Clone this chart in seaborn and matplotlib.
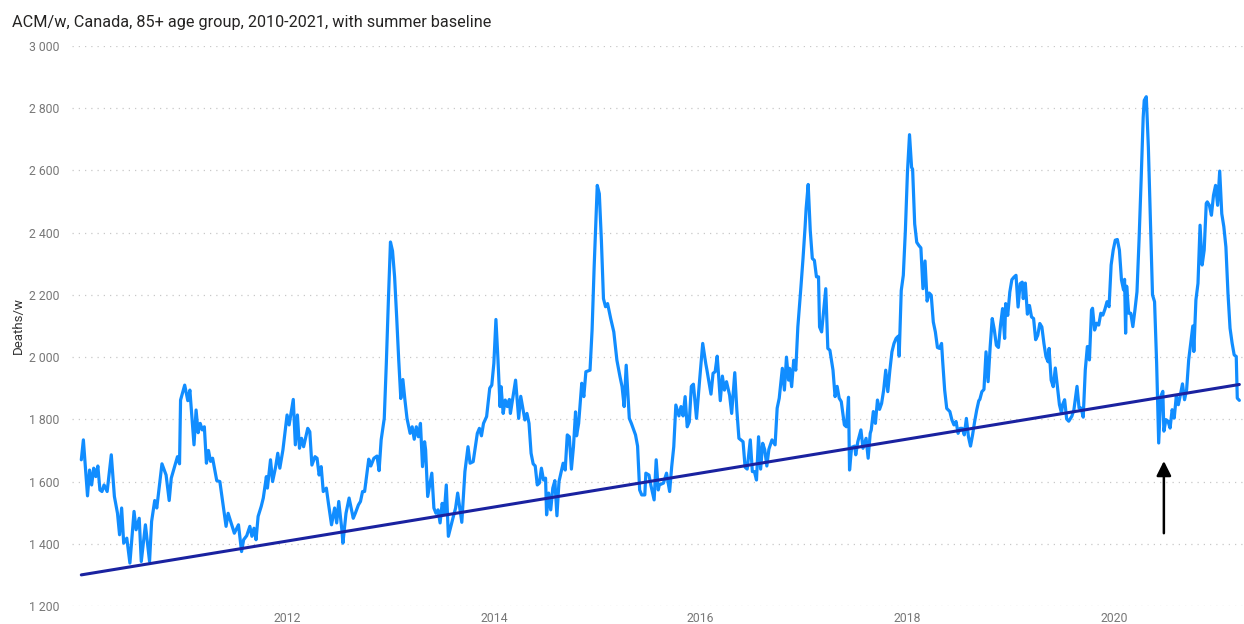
import numpy as np
import pandas as pd
import matplotlib
matplotlib.use("Agg")
import matplotlib.pyplot as plt
import seaborn as sns

# Weekly all-cause deaths, 85+ age group, Canada, decimal years
years = [
    2010.01, 2010.03, 2010.07, 2010.09, 2010.11, 2010.13, 2010.15, 2010.17, 2010.19, 2010.21,
    2010.23, 2010.26, 2010.30, 2010.33, 2010.36, 2010.38, 2010.40, 2010.42, 2010.45, 2010.48,
    2010.52, 2010.54, 2010.57, 2010.59, 2010.63, 2010.67, 2010.69, 2010.72, 2010.74, 2010.79,
    2010.83, 2010.86, 2010.88, 2010.94, 2010.96, 2010.97, 2011.01, 2011.04, 2011.06, 2011.10,
    2011.12, 2011.14, 2011.16, 2011.18, 2011.20, 2011.22, 2011.24, 2011.26, 2011.28, 2011.32,
    2011.35, 2011.41, 2011.43, 2011.47, 2011.49, 2011.53, 2011.56, 2011.58, 2011.61, 2011.64,
    2011.66, 2011.68, 2011.70, 2011.72, 2011.75, 2011.77, 2011.80, 2011.81, 2011.84, 2011.86,
    2011.89, 2011.91, 2011.93, 2011.96, 2012.00, 2012.02, 2012.06, 2012.08, 2012.10, 2012.12,
    2012.14, 2012.16, 2012.20, 2012.22, 2012.24, 2012.27, 2012.29, 2012.31, 2012.33, 2012.35,
    2012.38, 2012.40, 2012.43, 2012.46, 2012.48, 2012.50, 2012.53, 2012.54, 2012.57, 2012.60,
    2012.64, 2012.66, 2012.69, 2012.71, 2012.73, 2012.75, 2012.79, 2012.81, 2012.84, 2012.87,
    2012.89, 2012.91, 2012.94, 2012.96, 2012.98, 2013.00, 2013.02, 2013.04, 2013.06, 2013.08,
    2013.10, 2013.12, 2013.14, 2013.16, 2013.19, 2013.21, 2013.23, 2013.25, 2013.27, 2013.29,
    2013.31, 2013.33, 2013.34, 2013.36, 2013.40, 2013.42, 2013.44, 2013.46, 2013.48, 2013.50,
    2013.52, 2013.54, 2013.56, 2013.60, 2013.63, 2013.65, 2013.69, 2013.72, 2013.75, 2013.77,
    2013.80, 2013.84, 2013.86, 2013.88, 2013.90, 2013.93, 2013.96, 2013.98, 2014.00, 2014.02,
    2014.04, 2014.06, 2014.07, 2014.09, 2014.11, 2014.13, 2014.15, 2014.16, 2014.21, 2014.24,
    2014.26, 2014.30, 2014.32, 2014.34, 2014.36, 2014.38, 2014.40, 2014.42, 2014.44, 2014.46,
    2014.48, 2014.50, 2014.51, 2014.53, 2014.55, 2014.57, 2014.59, 2014.61, 2014.63, 2014.67,
    2014.69, 2014.71, 2014.73, 2014.75, 2014.77, 2014.79, 2014.80, 2014.82, 2014.85, 2014.87,
    2014.89, 2014.93, 2014.95, 2014.97, 2014.99, 2015.00, 2015.02, 2015.04, 2015.06, 2015.08,
    2015.10, 2015.13, 2015.16, 2015.19, 2015.22, 2015.24, 2015.26, 2015.28, 2015.31, 2015.33,
    2015.37, 2015.39, 2015.41, 2015.43, 2015.46, 2015.47, 2015.50, 2015.52, 2015.55, 2015.57,
    2015.59, 2015.60, 2015.64, 2015.67, 2015.70, 2015.72, 2015.74, 2015.76, 2015.79, 2015.81,
    2015.83, 2015.85, 2015.87, 2015.89, 2015.91, 2015.93, 2015.96, 2015.99, 2016.02, 2016.05,
    2016.06, 2016.10, 2016.12, 2016.14, 2016.16, 2016.17, 2016.19, 2016.21, 2016.23, 2016.25,
    2016.28, 2016.30, 2016.33, 2016.35, 2016.37, 2016.41, 2016.43, 2016.45, 2016.48, 2016.50,
    2016.52, 2016.54, 2016.56, 2016.58, 2016.60, 2016.62, 2016.64, 2016.66, 2016.69, 2016.72,
    2016.74, 2016.76, 2016.79, 2016.81, 2016.83, 2016.85, 2016.86, 2016.88, 2016.90, 2016.92,
    2016.94, 2016.97, 2016.99, 2017.01, 2017.02, 2017.04, 2017.06, 2017.08, 2017.10, 2017.12,
    2017.14, 2017.15, 2017.17, 2017.20, 2017.21, 2017.23, 2017.25, 2017.28, 2017.30, 2017.32,
    2017.34, 2017.36, 2017.39, 2017.41, 2017.43, 2017.44, 2017.46, 2017.49, 2017.50, 2017.52,
    2017.55, 2017.57, 2017.60, 2017.62, 2017.64, 2017.65, 2017.67, 2017.69, 2017.71, 2017.73,
    2017.75, 2017.77, 2017.79, 2017.81, 2017.83, 2017.85, 2017.87, 2017.89, 2017.91, 2017.92,
    2017.94, 2017.96, 2017.98, 2018.00, 2018.02, 2018.04, 2018.05, 2018.07, 2018.09, 2018.11,
    2018.13, 2018.15, 2018.17, 2018.19, 2018.21, 2018.23, 2018.25, 2018.27, 2018.29, 2018.31,
    2018.33, 2018.34, 2018.36, 2018.38, 2018.41, 2018.43, 2018.45, 2018.47, 2018.49, 2018.51,
    2018.53, 2018.55, 2018.57, 2018.59, 2018.61, 2018.63, 2018.65, 2018.67, 2018.69, 2018.70,
    2018.72, 2018.74, 2018.76, 2018.78, 2018.80, 2018.82, 2018.84, 2018.86, 2018.88, 2018.90,
    2018.92, 2018.94, 2018.95, 2018.97, 2018.99, 2019.01, 2019.03, 2019.05, 2019.07, 2019.09,
    2019.11, 2019.12, 2019.14, 2019.16, 2019.18, 2019.20, 2019.22, 2019.24, 2019.26, 2019.28,
    2019.30, 2019.32, 2019.34, 2019.36, 2019.37, 2019.39, 2019.41, 2019.43, 2019.45, 2019.47,
    2019.49, 2019.50, 2019.52, 2019.54, 2019.56, 2019.59, 2019.61, 2019.64, 2019.66, 2019.68,
    2019.70, 2019.72, 2019.74, 2019.76, 2019.78, 2019.79, 2019.81, 2019.83, 2019.85, 2019.87,
    2019.89, 2019.91, 2019.93, 2019.95, 2019.97, 2019.99, 2020.01, 2020.03, 2020.05, 2020.07,
    2020.09, 2020.10, 2020.11, 2020.12, 2020.14, 2020.16, 2020.18, 2020.20, 2020.22, 2020.24,
    2020.26, 2020.28, 2020.29, 2020.31, 2020.33, 2020.35, 2020.37, 2020.39, 2020.41, 2020.43,
    2020.45, 2020.47, 2020.48, 2020.50, 2020.52, 2020.54, 2020.56, 2020.58, 2020.60, 2020.62,
    2020.64, 2020.66, 2020.68, 2020.70, 2020.72, 2020.74, 2020.76, 2020.77, 2020.79, 2020.81,
    2020.83, 2020.85, 2020.87, 2020.89, 2020.90, 2020.92, 2020.94, 2020.96, 2020.98, 2021.00,
    2021.02, 2021.04, 2021.06, 2021.08, 2021.10, 2021.12, 2021.14, 2021.16, 2021.18, 2021.19,
    2021.21,
]
deaths = [
    1670, 1734, 1554, 1637, 1589, 1643, 1616, 1650, 1573, 1568,
    1589, 1568, 1686, 1552, 1498, 1429, 1515, 1402, 1418, 1338,
    1504, 1445, 1482, 1343, 1461, 1343, 1472, 1539, 1515, 1657,
    1621, 1539, 1611, 1680, 1657, 1862, 1910, 1860, 1894, 1718,
    1830, 1757, 1787, 1766, 1776, 1659, 1700, 1665, 1675, 1603,
    1600, 1456, 1498, 1456, 1434, 1461, 1375, 1413, 1426, 1456,
    1424, 1450, 1413, 1488, 1520, 1547, 1616, 1579, 1670, 1600,
    1648, 1691, 1643, 1702, 1814, 1782, 1864, 1718, 1814, 1707,
    1739, 1712, 1771, 1760, 1653, 1680, 1675, 1621, 1648, 1568,
    1579, 1530, 1461, 1515, 1467, 1536, 1445, 1402, 1498, 1547,
    1482, 1498, 1525, 1536, 1568, 1568, 1672, 1650, 1675, 1682,
    1635, 1734, 1803, 1980, 2183, 2370, 2341, 2258, 2129, 1990,
    1867, 1928, 1862, 1803, 1755, 1776, 1736, 1776, 1744, 1787,
    1648, 1728, 1702, 1552, 1627, 1515, 1498, 1509, 1467, 1530,
    1498, 1589, 1424, 1477, 1515, 1563, 1469, 1632, 1712, 1659,
    1664, 1755, 1771, 1747, 1787, 1809, 1900, 1910, 1980, 2121,
    1990, 1841, 1905, 1819, 1862, 1841, 1864, 1819, 1926, 1803,
    1874, 1798, 1819, 1787, 1691, 1657, 1650, 1589, 1595, 1643,
    1605, 1611, 1493, 1563, 1509, 1579, 1603, 1490, 1600, 1659,
    1637, 1750, 1744, 1640, 1712, 1824, 1747, 1787, 1916, 1873,
    1953, 1958, 2087, 2290, 2461, 2552, 2525, 2375, 2188, 2162,
    2172, 2124, 2081, 1990, 1937, 1905, 1841, 1974, 1803, 1787,
    1750, 1714, 1573, 1557, 1557, 1627, 1621, 1586, 1541, 1670,
    1573, 1589, 1595, 1627, 1568, 1648, 1712, 1846, 1811, 1841,
    1811, 1873, 1776, 1792, 1906, 1913, 1803, 1926, 2044, 1978,
    1960, 1881, 1948, 1953, 2003, 1958, 1860, 1939, 1894, 1921,
    1878, 1819, 1950, 1830, 1739, 1728, 1646, 1640, 1734, 1632,
    1632, 1605, 1744, 1640, 1723, 1702, 1650, 1704, 1734, 1718,
    1836, 1868, 1964, 1894, 2000, 1926, 1964, 1905, 1990, 1958,
    2097, 2226, 2317, 2418, 2477, 2555, 2407, 2317, 2311, 2258,
    2258, 2097, 2081, 2183, 2220, 2028, 2022, 1958, 1873, 1906,
    1868, 1857, 1782, 1776, 1871, 1637, 1710, 1714, 1686, 1728,
    1766, 1707, 1739, 1675, 1755, 1766, 1825, 1787, 1862, 1832,
    1851, 1894, 1958, 1889, 1958, 2017, 2044, 2060, 2067, 2003,
    2214, 2263, 2407, 2594, 2715, 2610, 2604, 2428, 2369, 2359,
    2351, 2220, 2309, 2180, 2206, 2199, 2113, 2081, 2031, 2028,
    2044, 1990, 1894, 1835, 1825, 1798, 1782, 1793, 1755, 1771,
    1771, 1750, 1803, 1744, 1714, 1750, 1793, 1830, 1860, 1864,
    1889, 1896, 2017, 1921, 2033, 2124, 2088, 2038, 2031, 2102,
    2156, 2060, 2172, 2134, 2209, 2249, 2257, 2263, 2161, 2236,
    2241, 2188, 2238, 2138, 2166, 2129, 2124, 2056, 2070, 2108,
    2097, 2044, 2001, 1985, 2028, 1926, 1905, 1965, 1906, 1847,
    1820, 1847, 1863, 1801, 1794, 1810, 1831, 1906, 1836, 1836,
    1807, 1959, 2034, 1991, 2151, 2157, 2087, 2109, 2103, 2141,
    2135, 2154, 2178, 2162, 2296, 2344, 2376, 2378, 2344, 2248,
    2216, 2250, 2077, 2228, 2141, 2141, 2098, 2151, 2210, 2376,
    2568, 2771, 2825, 2837, 2675, 2440, 2200, 2178, 1981, 1724,
    1874, 1890, 1762, 1799, 1794, 1772, 1831, 1804, 1874, 1847,
    1879, 1914, 1863, 1895, 1991, 2045, 2100, 2018, 2184, 2237,
    2424, 2296, 2344, 2494, 2499, 2488, 2456, 2520, 2552, 2488,
    2598, 2461, 2419, 2354, 2205, 2093, 2045, 2007, 2002, 1868,
    1861,
]

# Summer baseline (straight line)
baseline_years = [2010.01, 2021.21]
baseline_deaths = [1300, 1912]

# Arrow marking summer 2020
arrow_year = 2020.48
arrow_tail, arrow_tip = 1425, 1675

y_ticks = [1200, 1400, 1600, 1800, 2000, 2200, 2400, 2600, 2800, 3000]
x_ticks = [2012, 2014, 2016, 2018, 2020]

df = pd.DataFrame({"year": years, "deaths": deaths})
df_base = pd.DataFrame({"year": baseline_years, "deaths": baseline_deaths})

sns.set_style("white")
plt.rcParams["font.family"] = ["Roboto", "DejaVu Sans"]

fig = plt.figure(figsize=(12.44, 6.24), dpi=100)
ax = fig.add_axes([72 / 1244, 18 / 624, 1 - 72 / 1244, (606 - 46) / 624])

sns.lineplot(data=df, x="year", y="deaths", ax=ax, color="#118DFF", linewidth=2.3)
sns.lineplot(data=df_base, x="year", y="deaths", ax=ax, color="#1A22A0", linewidth=2.2)

ax.annotate("", xy=(arrow_year, arrow_tip), xytext=(arrow_year, arrow_tail),
            arrowprops=dict(arrowstyle="-|>", color="black", lw=1.8, mutation_scale=22))

ax.set_xlim(2009.92, 2021.255)
ax.set_ylim(1200, 3000)
ax.set_xticks(x_ticks)
ax.set_xticklabels([str(t) for t in x_ticks])
ax.set_yticks(y_ticks)
ax.set_yticklabels([f"{t:,}".replace(",", " ") for t in y_ticks])
ax.tick_params(axis="both", length=0, labelsize=8.8, colors="#777777", pad=9)
ax.tick_params(axis="x", pad=4)

ax.grid(axis="y", color="#c8c8c8", linestyle=(0, (1, 4)), linewidth=0.9)
ax.grid(axis="x", visible=False)
for s in ax.spines.values():
    s.set_visible(False)

ax.set_xlabel("")
ax.set_ylabel("Deaths/w", fontsize=9.5, color="#333333")
ax.yaxis.set_label_coords((25 - 72) / 1172, 0.5)

fig.text(12 / 1244, 1 - 22 / 624, "ACM/w, Canada, 85+ age group, 2010-2021, with summer baseline",
         fontsize=11.7, color="#252423", va="center", ha="left")

fig.savefig("out.png", dpi=100)
